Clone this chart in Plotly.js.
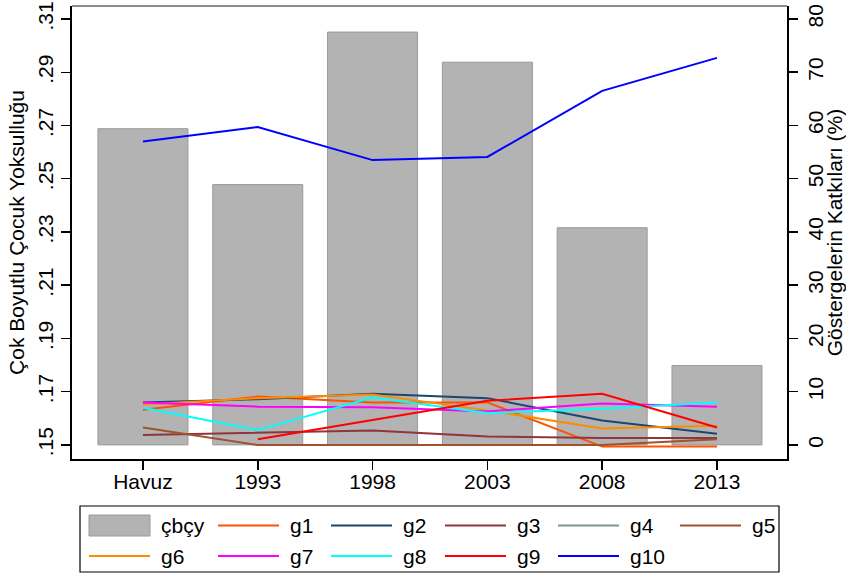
<!DOCTYPE html>
<html><head><meta charset="utf-8">
<script src="https://cdn.plot.ly/plotly-3.0.1.min.js"></script>
<style>html,body{margin:0;padding:0;background:#fff}</style>
</head><body>
<div id="chart" style="width:846px;height:576px"></div>
<script>
// ---- data ----
const categories = ["Havuz", "1993", "1998", "2003", "2008", "2013"];
const cbcy = [0.2688, 0.2478, 0.3051, 0.2938, 0.2316, 0.1798];
const g1 = [6.6, 9.1, 8.0, 8.0, -0.3, -0.3];
const g2 = [8.0, 8.6, 9.6, 8.8, 4.6, 2.1];
const g3 = [1.9, 2.3, 2.7, 1.6, 1.3, 1.3];
const g4 = [null, null, null, null, null, null];
const g5 = [3.3, 0.0, 0.0, 0.0, 0.0, 1.1];
const g6 = [7.6, 8.8, 9.5, 6.5, 3.1, 3.6];
const g7 = [8.0, 7.2, 7.1, 6.3, 7.8, 7.2];
const g8 = [7.0, 2.8, 8.9, 6.0, 6.8, 8.0];
const g9 = [null, 1.1, 4.7, 8.3, 9.6, 3.3];
const g10 = [57.0, 59.7, 53.5, 54.1, 66.5, 72.7];
const barName = "çbçy";
const lineNames = ["g1", "g2", "g3", "g4", "g5", "g6", "g7", "g8", "g9", "g10"];
const lineSeries = [g1, g2, g3, g4, g5, g6, g7, g8, g9, g10];
const leftTickVals = [0.15, 0.17, 0.19, 0.21, 0.23, 0.25, 0.27, 0.29, 0.31];
const leftTickText = [".15", ".17", ".19", ".21", ".23", ".25", ".27", ".29", ".31"];
const rightTickVals = [0, 10, 20, 30, 40, 50, 60, 70, 80];
const leftTitle = "Çok Boyutlu Çocuk Yoksulluğu";
const rightTitle = "Göstergelerin Katkıları (%)";

// ---- style ----
const BASE = 0.15;
const lineColors = ["#ff5200", "#1a476f", "#90353b", "#7a988b", "#a0522d",
                    "#ff8c00", "#ff00ff", "#00ffff", "#ff0000", "#0000ff"];
const W = 846, H = 576, ML = 72, MR = 59, MT = 6, MB = 117;
const PW = W - ML - MR, PH = H - MT - MB;
const px = x => (x - ML) / PW;
const py = y => (H - MB - y) / PH;
const FONT = "Arial, Liberation Sans, Helvetica, sans-serif";

const traces = [{
  type: "bar", x: categories, y: cbcy.map(v => v - BASE), base: BASE,
  width: 0.784, name: barName, yaxis: "y",
  marker: {color: "#b3b3b3", line: {color: "#9a9a9a", width: 1}},
  hoverinfo: "skip"
}];
lineSeries.forEach((s, i) => traces.push({
  type: "scatter", mode: "lines", x: categories, y: s, name: lineNames[i],
  yaxis: "y2", line: {color: lineColors[i], width: 2}, connectgaps: false
}));

// ---- custom legend (layout only) ----
const shapes = [
  {type: "line", xref: "paper", yref: "paper", x0: 0, x1: 1, y0: 1, y1: 1,
   line: {color: "#666", width: 1.5}},
  {type: "rect", xref: "paper", yref: "paper", x0: px(80), x1: px(779), y0: py(572), y1: py(506),
   line: {color: "#000", width: 1.2}, fillcolor: "#fff"}
];
const annotations = [];
const colSym = [89, 218, 331, 445, 558, 680];
const rowY = [525.5, 556];
const legendItems = [barName].concat(lineNames);
legendItems.forEach((nm, k) => {
  const r = Math.floor(k / 6), c = k % 6;
  const x0 = colSym[c], y = rowY[r];
  if (k === 0) {
    shapes.push({type: "rect", xref: "paper", yref: "paper", x0: px(x0), x1: px(x0 + 61),
      y0: py(y + 10.5), y1: py(y - 10.5), fillcolor: "#b3b3b3", line: {color: "#9a9a9a", width: 1}});
  } else {
    shapes.push({type: "line", xref: "paper", yref: "paper", x0: px(x0), x1: px(x0 + 61),
      y0: py(y), y1: py(y), line: {color: lineColors[k - 1], width: 2}});
  }
  annotations.push({xref: "paper", yref: "paper", x: px(x0 + 70), y: py(y), text: nm,
    showarrow: false, xanchor: "left", yanchor: "middle", font: {size: 21, color: "#000"}});
});

const layout = {
  width: W, height: H,
  margin: {l: ML, r: MR, t: MT, b: MB, pad: 0},
  paper_bgcolor: "#fff", plot_bgcolor: "#fff",
  font: {family: FONT, size: 21, color: "#000"},
  showlegend: false,
  xaxis: {type: "category", range: [-0.618, 5.61], showline: true, linecolor: "#000", linewidth: 2,
    ticks: "outside", ticklen: 9, tickwidth: 1.5, tickcolor: "#000", showgrid: false, zeroline: false,
    tickfont: {size: 21}, ticklabelstandoff: -6},
  yaxis: {range: [0.1447, 0.3149], tickvals: leftTickVals, ticktext: leftTickText, tickangle: -90,
    ticks: "outside", ticklen: 9, tickwidth: 1.5, tickcolor: "#000", showline: true, linecolor: "#000",
    linewidth: 2, showgrid: false, zeroline: false, tickfont: {size: 21},
    title: {text: leftTitle, font: {size: 21}, standoff: 3}},
  yaxis2: {overlaying: "y", side: "right", range: [-2.63, 82.44], tickvals: rightTickVals, tickangle: -90,
    ticks: "outside", ticklen: 9, tickwidth: 1.5, tickcolor: "#000", showline: true, linecolor: "#000",
    linewidth: 2, showgrid: false, zeroline: false, tickfont: {size: 21},
    title: {text: rightTitle, font: {size: 21}, standoff: 2}},
  shapes: shapes,
  annotations: annotations
};

Plotly.newPlot("chart", traces, layout, {displayModeBar: false, staticPlot: true});
</script>
</body></html>
